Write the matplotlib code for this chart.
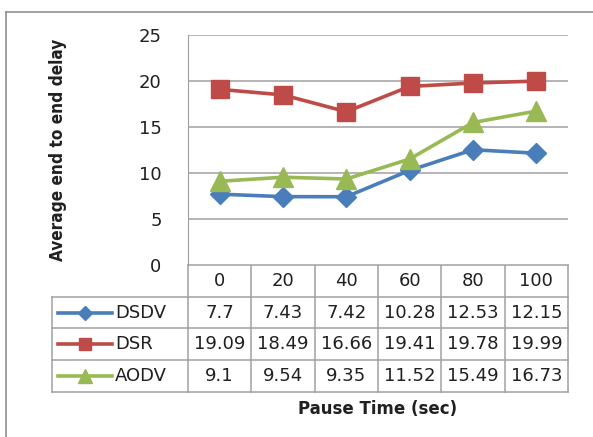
import matplotlib
matplotlib.use("Agg")
import matplotlib.pyplot as plt
from matplotlib.lines import Line2D

categories = ["0", "20", "40", "60", "80", "100"]
series_names = ["DSDV", "DSR", "AODV"]
dsdv = [7.7, 7.43, 7.42, 10.28, 12.53, 12.15]
dsr = [19.09, 18.49, 16.66, 19.41, 19.78, 19.99]
aodv = [9.1, 9.54, 9.35, 11.52, 15.49, 16.73]
dsdv_labels = ["7.7", "7.43", "7.42", "10.28", "12.53", "12.15"]
dsr_labels = ["19.09", "18.49", "16.66", "19.41", "19.78", "19.99"]
aodv_labels = ["9.1", "9.54", "9.35", "11.52", "15.49", "16.73"]
y_ticks = [0, 5, 10, 15, 20, 25]

colors = ["#4A7EBB", "#BE4B48", "#98B954"]
markers = ["D", "s", "^"]
msizes = [10, 13, 15]
values = [dsdv, dsr, aodv]
labels = [dsdv_labels, dsr_labels, aodv_labels]

W, H = 593, 437
fig = plt.figure(figsize=(W / 100, H / 100), dpi=100)
grid_c = "#A0A0A0"
font = "DejaVu Sans"
fs = 13

# background overlay axes in pixel coords
bg = fig.add_axes([0, 0, 1, 1])
bg.set_xlim(0, W)
bg.set_ylim(H, 0)
bg.axis("off")
bg.plot([6, W], [12, 12], color="#909090", lw=1.2)
bg.plot([6, 6], [12, H], color="#909090", lw=1.2)

# plot area
px0, px1, py0, py1 = 188, 568, 35, 265
ax = fig.add_axes([px0 / W, 1 - py1 / H, (px1 - px0) / W, (py1 - py0) / H])
ax.set_xlim(0, len(categories))
ax.set_ylim(0, 25)
ax.set_yticks(y_ticks)
ax.set_yticklabels([str(t) for t in y_ticks], fontsize=fs, family=font, color="#202020")
ax.tick_params(axis="y", length=0, pad=19)
ax.set_xticks([])
for s in ["top", "right", "bottom"]:
    ax.spines[s].set_visible(False)
ax.spines["left"].set_color(grid_c)
ax.yaxis.grid(True, color=grid_c, lw=1.1)
ax.set_axisbelow(True)
xs = [i + 0.5 for i in range(len(categories))]
for vals, c, m, ms in zip(values, colors, markers, msizes):
    ax.plot(xs, vals, color=c, lw=2.6, marker=m, markersize=ms,
            markerfacecolor=c, markeredgecolor=c, clip_on=False, zorder=3)

bg.text(58, 150, "Average end to end delay", rotation=90, ha="center", va="center",
        fontsize=12.3, fontweight="bold", family=font, fontstretch="condensed",
        color="#202020")

# data table
colw = (px1 - px0) / len(categories)
rows_y = [265, 297, 328, 360, 392]
lx0 = 52
bg.plot([px0, px1], [rows_y[0], rows_y[0]], color=grid_c, lw=1.1)
for yy in rows_y[1:]:
    bg.plot([lx0, px1], [yy, yy], color=grid_c, lw=1.1)
bg.plot([lx0, lx0], [rows_y[1], rows_y[-1]], color=grid_c, lw=1.1)
for i in range(len(categories) + 1):
    xx = px0 + i * colw
    bg.plot([xx, xx], [rows_y[0], rows_y[-1]], color=grid_c, lw=1.1)

for i, cat in enumerate(categories):
    cx = px0 + (i + 0.5) * colw
    bg.text(cx, (rows_y[0] + rows_y[1]) / 2, cat, ha="center", va="center",
            fontsize=fs, family=font, color="#202020")
for r, (name, labs, c, m, ms) in enumerate(zip(series_names, labels, colors, markers, msizes)):
    cy = (rows_y[r + 1] + rows_y[r + 2]) / 2
    bg.add_line(Line2D([58, 112], [cy, cy], color=c, lw=2.6))
    bg.add_line(Line2D([85], [cy], marker=m, markersize=ms * 0.7, color=c,
                       markerfacecolor=c, markeredgecolor=c))
    bg.text(115, cy, name, ha="left", va="center", fontsize=fs, family=font, color="#202020")
    for i, lab in enumerate(labs):
        cx = px0 + (i + 0.5) * colw
        bg.text(cx, cy, lab, ha="center", va="center", fontsize=fs, family=font, color="#202020")

bg.text((px0 + px1) / 2, 409, "Pause Time (sec)", ha="center", va="center",
        fontsize=12, fontweight="bold", family=font, color="#202020")

fig.savefig("out.png", dpi=100)
